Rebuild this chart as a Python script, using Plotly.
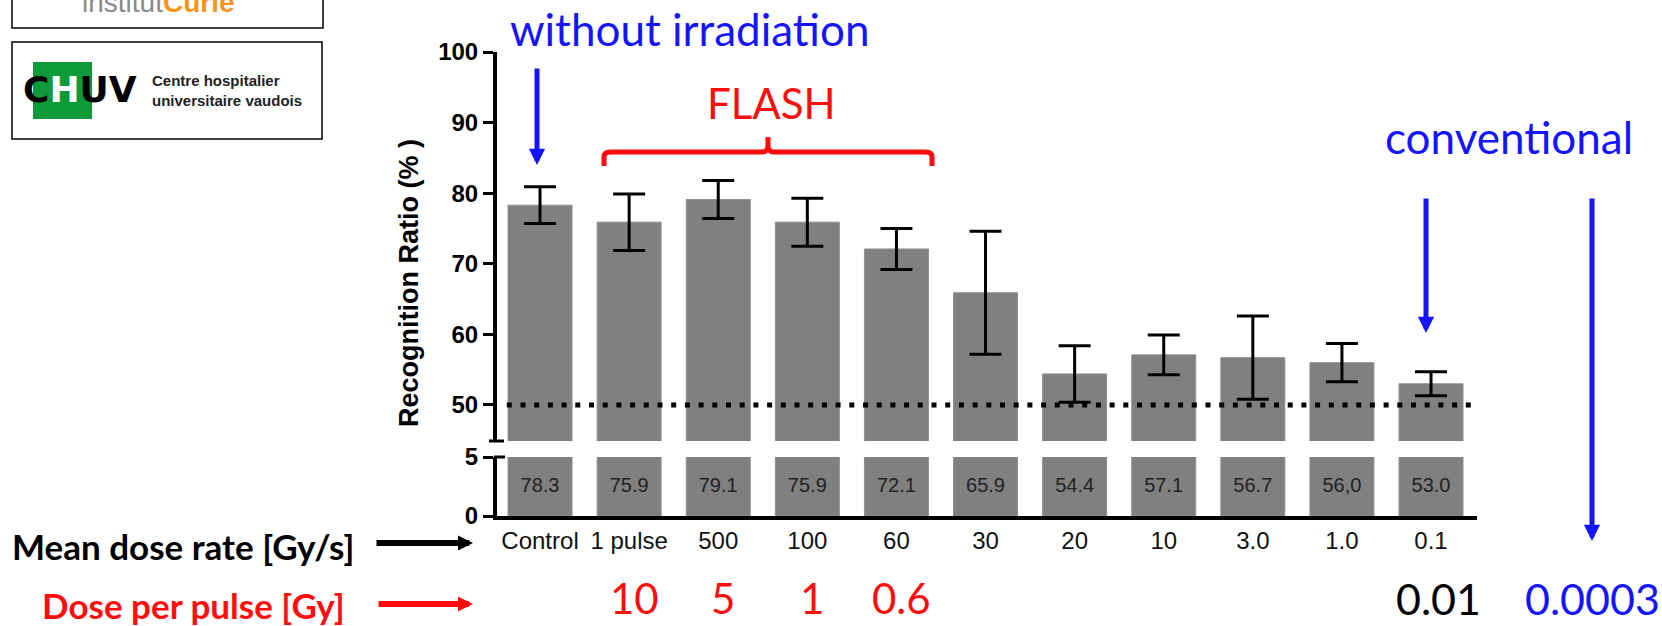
import plotly.graph_objects as go

# ---------------- data ----------------
categories = ["Control", "1 pulse", "500", "100", "60", "30", "20", "10", "3.0", "1.0", "0.1"]
means = [78.3, 75.9, 79.1, 75.9, 72.1, 65.9, 54.4, 57.1, 56.7, 56.0, 53.0]
errors = [2.6, 4.0, 2.7, 3.4, 2.9, 8.7, 4.0, 2.8, 5.9, 2.7, 1.7]
value_labels = ["78.3", "75.9", "79.1", "75.9", "72.1", "65.9", "54.4", "57.1", "56.7", "56,0", "53.0"]
chance_level = 50
upper_ticks = [50, 60, 70, 80, 90, 100]
lower_ticks = [0, 5]
flash_categories = ["1 pulse", "500", "100", "60"]
flash_dose_per_pulse = ["10", "5", "1", "0.6"]
conv_dose_per_pulse = ["0.01", "0.0003"]

# ---------------- layout helpers ----------------
W, H = 1662, 626
def px(x):
    return x / W
def py(y):
    return 1 - y / H

ARIAL = "Liberation Sans, Arial, sans-serif"
CAL = "Lato, Carlito, Calibri, sans-serif"
BLUE = "#1414ff"
RED = "#ff0d0d"
GRAY = "#808080"

UPPER_RANGE = [44.9, 100]
LOWER_RANGE = [0, 5]
X_RANGE = [-0.483, 10.516]
XDOM = [px(497), px(1477)]

fig = go.Figure()

# upper (broken) segment
fig.add_trace(go.Bar(
    x=categories, y=means, xaxis="x", yaxis="y",
    marker=dict(color=GRAY, line=dict(color="#8e8e8e", width=1)),
    error_y=dict(type="data", array=errors, visible=True, color="black", thickness=3, width=16),
    showlegend=False, hoverinfo="skip",
))
# lower segment (0-5), bars clipped by the axis range
fig.add_trace(go.Bar(
    x=categories, y=means, xaxis="x2", yaxis="y2",
    marker=dict(color=GRAY, line=dict(color="#8e8e8e", width=1)),
    showlegend=False, hoverinfo="skip",
))
lower_mid = (LOWER_RANGE[0] + LOWER_RANGE[1]) / 2
fig.add_trace(go.Scatter(
    x=categories, y=[lower_mid] * len(categories), xaxis="x2", yaxis="y2",
    mode="text", text=value_labels,
    textfont=dict(family=ARIAL, size=20, color="#222222"),
    showlegend=False, hoverinfo="skip",
))

shapes = []
annotations = []

# chance-level dotted line
shapes.append(dict(type="line", xref="x domain", yref="y", x0=0.01, x1=1.0,
                   y0=chance_level, y1=chance_level,
                   line=dict(color="black", width=5, dash="5px,8.7px"), layer="above"))
# axis break caps
shapes.append(dict(type="line", xref="paper", yref="paper", x0=px(489), x1=px(504),
                   y0=py(441), y1=py(441), line=dict(color="black", width=3)))
shapes.append(dict(type="line", xref="paper", yref="paper", x0=px(494), x1=px(505),
                   y0=py(457), y1=py(457), line=dict(color="black", width=3)))

# FLASH brace
def P(x, y):
    return f"{px(x):.5f},{py(y):.5f}"
brace = ("M " + P(604, 166) + " L " + P(604, 157) + " Q " + P(604, 152) + " " + P(610, 152) +
         " L " + P(762, 152) + " Q " + P(768, 152) + " " + P(768, 146) + " L " + P(768, 137) +
         " M " + P(768, 146) + " Q " + P(768, 152) + " " + P(774, 152) +
         " L " + P(926, 152) + " Q " + P(932, 152) + " " + P(932, 157) + " L " + P(932, 166))
shapes.append(dict(type="path", xref="paper", yref="paper", path=brace,
                   line=dict(color=RED, width=5)))

# logos boxes
shapes.append(dict(type="rect", xref="paper", yref="paper", x0=px(12), x1=px(323),
                   y0=py(28), y1=py(-10), line=dict(color="black", width=1.5)))
shapes.append(dict(type="rect", xref="paper", yref="paper", x0=px(12), x1=px(322),
                   y0=py(139), y1=py(42), line=dict(color="black", width=1.5)))
shapes.append(dict(type="rect", xref="paper", yref="paper", x0=px(33), x1=px(92),
                   y0=py(119), y1=py(62), line=dict(width=0), fillcolor="#0f9a3a"))

def arrow(x0, y0, x1, y1, color, width, size):
    annotations.append(dict(x=px(x1), y=py(y1), ax=x0 - x1, ay=y0 - y1,
                            xref="paper", yref="paper", axref="pixel", ayref="pixel",
                            text="", showarrow=True, arrowhead=2, arrowsize=size,
                            arrowwidth=width, arrowcolor=color, standoff=0))

arrow(537, 67, 537, 165, BLUE, 5, 0.65)
arrow(1426, 197, 1426, 333, BLUE, 5, 0.65)
arrow(1592, 197, 1592, 541, BLUE, 5, 0.65)
arrow(375, 543, 473, 543, "black", 6, 0.5)
arrow(377, 604, 473, 604, RED, 6, 0.5)

def text(x, y, s, size, color, family=CAL, xanchor="center", weight="normal", **kw):
    d = dict(x=x, y=y, xref="paper", yref="paper", text=s, showarrow=False,
             xanchor=xanchor, yanchor="middle",
             font=dict(family=family, size=size, color=color, weight=weight))
    d.update(kw)
    annotations.append(d)

text(px(689), py(29), "without irradiation", 44, BLUE)
text(px(771), py(103), "FLASH", 42, RED)
text(px(1509), py(137), "conventional", 44, BLUE)
text(px(10), py(546), "Mean dose rate [Gy/s]", 35, "black", xanchor="left", weight="bold")
text(px(40), py(605), "Dose per pulse [Gy]", 35, RED, xanchor="left", weight="bold")
text(px(409), py(283), "Recognition Ratio (% )", 27, "black", family=ARIAL, weight="bold", textangle=-90)

for cat, lab in zip(flash_categories, flash_dose_per_pulse):
    annotations.append(dict(x=categories.index(cat), y=py(598), xref="x2", yref="paper", text=lab,
                            showarrow=False, xanchor="center", yanchor="middle", xshift=5,
                            font=dict(family=CAL, size=42, color=RED)))
annotations.append(dict(x=len(categories) - 1, y=py(598), xref="x2", yref="paper",
                        text=conv_dose_per_pulse[0], showarrow=False, xanchor="center",
                        yanchor="middle", xshift=7,
                        font=dict(family=CAL, size=43, color="black")))
text(px(1592), py(598), conv_dose_per_pulse[1], 43, BLUE)

# logos text
annotations.append(dict(x=px(158), y=py(20), xref="paper", yref="paper", showarrow=False,
                        xanchor="center", yanchor="bottom",
                        text="<span style='color:#8a8a8a'>institut</span><b><span style='color:#f7941d'>Curie</span></b>",
                        font=dict(family=ARIAL, size=28, color="#8a8a8a")))
annotations.append(dict(x=px(80), y=py(90), xref="paper", yref="paper", showarrow=False,
                        xanchor="center", yanchor="middle",
                        text="C<span style='color:white'>H</span>UV",
                        font=dict(family="DejaVu Sans", size=36, color="black", weight="bold")))
annotations.append(dict(x=px(150), y=py(91), xref="paper", yref="paper", showarrow=False,
                        xanchor="left", yanchor="middle", align="left",
                        text="Centre hospitalier<br>universitaire vaudois",
                        font=dict(family=ARIAL, size=15, color="#222222", weight="bold")))

fig.update_layout(
    width=W, height=H, margin=dict(l=0, r=0, t=0, b=0),
    paper_bgcolor="white", plot_bgcolor="white", template="none",
    bargap=0.282, showlegend=False,
    xaxis=dict(domain=XDOM, range=X_RANGE, type="category", anchor="y",
               showline=False, showticklabels=False, ticks="", showgrid=False, zeroline=False),
    xaxis2=dict(domain=XDOM, range=X_RANGE, type="category", anchor="y2",
                showline=True, linewidth=4, linecolor="black", ticks="", showgrid=False, zeroline=False,
                tickfont=dict(family=ARIAL, size=24, color="#111111")),
    yaxis=dict(domain=[py(441), py(52)], range=UPPER_RANGE, anchor="x", tickvals=upper_ticks,
               ticks="outside", ticklen=10, tickwidth=3, tickcolor="black",
               showline=True, linewidth=4, linecolor="black", showgrid=False, zeroline=False,
               tickfont=dict(family=ARIAL, size=24, color="black", weight="bold")),
    yaxis2=dict(domain=[py(516), py(457)], range=LOWER_RANGE, anchor="x2", tickvals=lower_ticks,
                ticks="outside", ticklen=10, tickwidth=3, tickcolor="black",
                showline=True, linewidth=4, linecolor="black", showgrid=False, zeroline=False,
                tickfont=dict(family=ARIAL, size=24, color="black", weight="bold")),
    shapes=shapes, annotations=annotations,
)

fig.write_html("out.html")
